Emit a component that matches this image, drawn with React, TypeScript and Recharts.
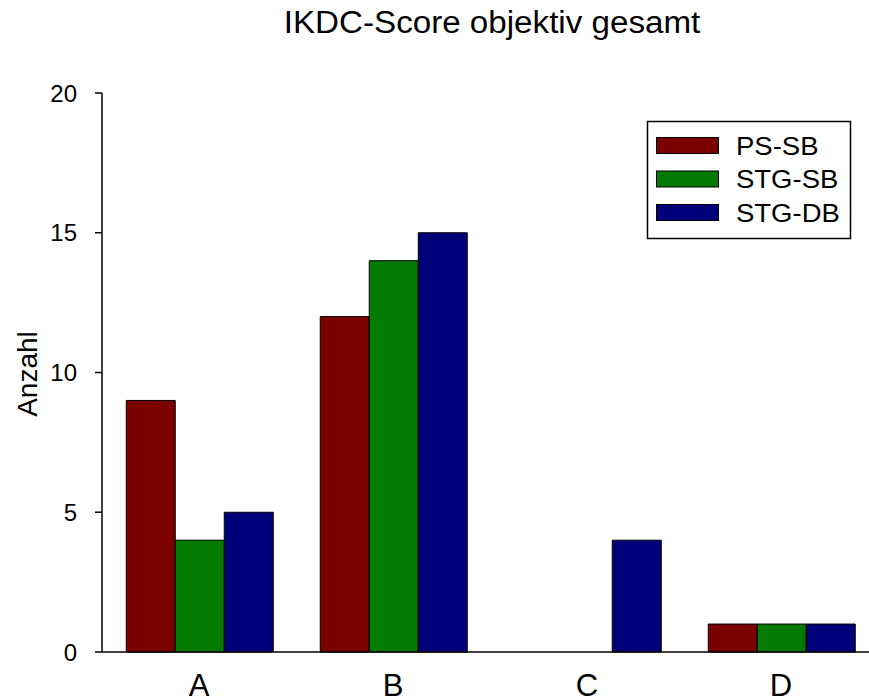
import React from 'react';
import { BarChart, Bar, XAxis, YAxis, Customized } from 'recharts';

const categories = ['A', 'B', 'C', 'D'];
const psSb = [9, 12, 0, 1];
const stgSb = [4, 14, 0, 1];
const stgDb = [5, 15, 4, 1];
const yTicks = [0, 5, 10, 15, 20];
const seriesKeys = ['psSb', 'stgSb', 'stgDb'];
const seriesNames = ['PS-SB', 'STG-SB', 'STG-DB'];
const seriesColors = ['#7b0000', '#037b03', '#00007b'];
const title = 'IKDC-Score objektiv gesamt';
const yLabel = 'Anzahl';

const data = categories.map((c, i) => ({ cat: c, psSb: psSb[i], stgSb: stgSb[i], stgDb: stgDb[i] }));

const FONT = '"Liberation Sans", Arial, Helvetica, sans-serif';

const XTick = (props: any) => {
  const { x, payload } = props;
  return (
    <text x={x} y={696} textAnchor="middle" fontSize={31} fontFamily={FONT} fill="#000">
      {payload.value}
    </text>
  );
};

const YTick = (props: any) => {
  const { y, payload } = props;
  return (
    <text x={77} y={y} dy={8.5} textAnchor="end" fontSize={24} fontFamily={FONT} fill="#000">
      {payload.value}
    </text>
  );
};

const Decorations = () => (
  <g fontFamily={FONT}>
    <text x={0} y={0} transform="translate(492,33) scale(1.07,1)" textAnchor="middle" fontSize={31} fill="#000">{title}</text>
    <text x={0} y={0} transform="translate(37,374) rotate(-90)" textAnchor="middle" fontSize={28} fill="#000">{yLabel}</text>
    <rect x={647.5} y={121.5} width={203} height={117} fill="#fff" stroke="#000" strokeWidth={1.5} />
    {seriesNames.map((n, i) => (
      <g key={n}>
        <rect x={656.5} y={137.5 + i * 33.5} width={62} height={16} fill={seriesColors[i]} stroke="#000" strokeWidth={1} />
        <text x={0} y={0} transform={`translate(736,${154.5 + i * 33.5}) scale(1.1,1)`} fontSize={25} fill="#000">{n}</text>
      </g>
    ))}
  </g>
);

export default function App() {
  return (
    <div style={{ position: 'absolute', left: 0, top: 0, width: 869, height: 699, overflow: 'hidden', background: '#fff' }}>
      <BarChart
        width={880}
        height={699}
        data={data}
        margin={{ top: 93, right: 2, bottom: 0, left: 0 }}
        barCategoryGap="12.5%"
        barGap={0}
      >
        <XAxis
          dataKey="cat"
          height={47}
          tickLine={false}
          axisLine={{ stroke: '#000', strokeWidth: 1.5 }}
          tick={<XTick />}
          interval={0}
        />
        <XAxis
          xAxisId="top"
          dataKey="cat"
          orientation="top"
          height={0}
          tick={false}
          tickLine={false}
          axisLine={{ stroke: '#000', strokeWidth: 1.5 }}
        />
        <YAxis
          width={102}
          domain={[0, 20]}
          ticks={yTicks}
          interval={0}
          tickSize={7}
          tickLine={{ stroke: '#000', strokeWidth: 1.5 }}
          axisLine={{ stroke: '#000', strokeWidth: 1.5 }}
          tick={<YTick />}
        />
        {seriesKeys.map((k, i) => (
          <Bar
            key={k}
            dataKey={k}
            name={seriesNames[i]}
            fill={seriesColors[i]}
            stroke="#000"
            strokeWidth={1}
            isAnimationActive={false}
          />
        ))}
        <Customized component={Decorations} />
      </BarChart>
    </div>
  );
}
